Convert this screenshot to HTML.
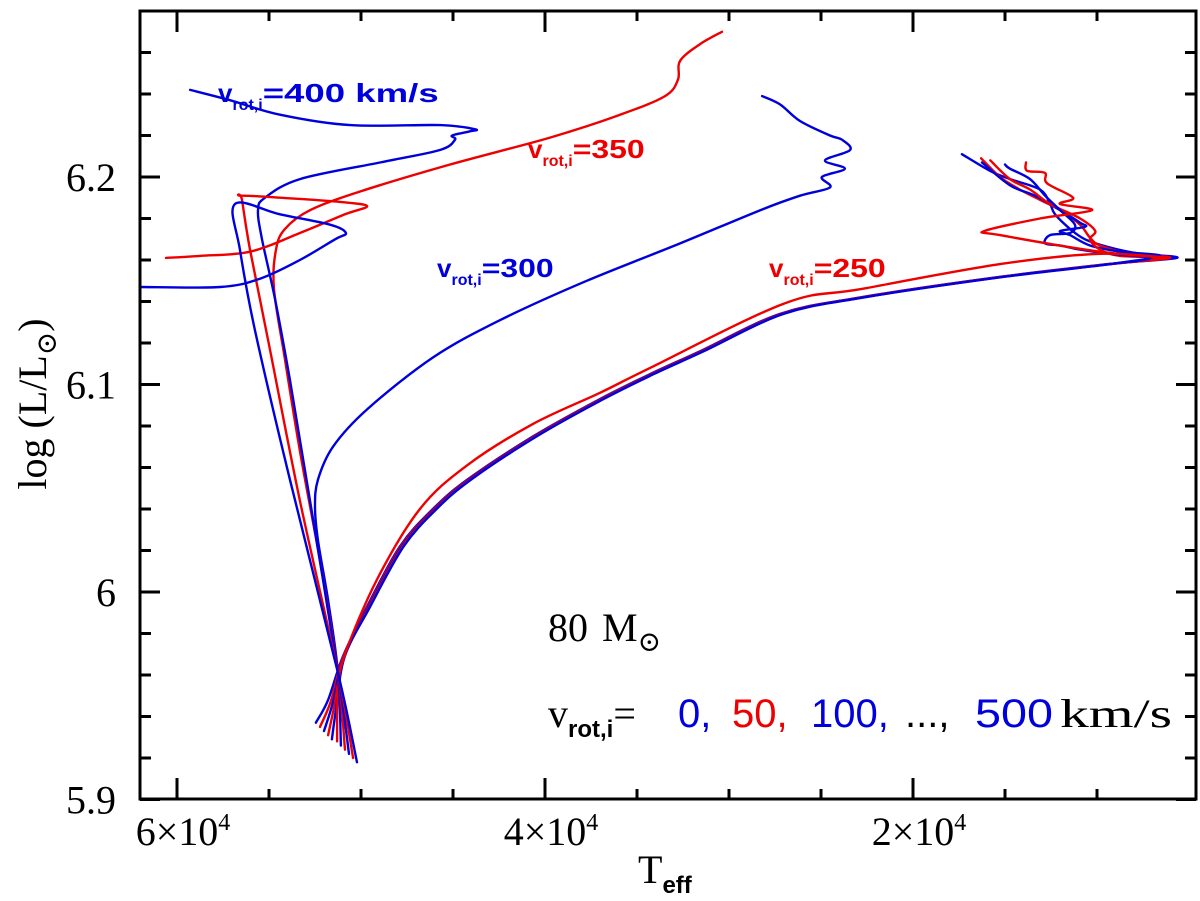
<!DOCTYPE html>
<html><head><meta charset="utf-8"><style>
html,body{margin:0;padding:0;background:#fff;}
svg{display:block;}
.ax{font-family:"Liberation Serif","DejaVu Serif",serif;fill:#000;}
.lab{font-family:"Liberation Sans","DejaVu Sans",sans-serif;font-weight:bold;}
</style></head><body>
<svg id="chart" width="1200" height="901" viewBox="0 0 1200 901" xmlns="http://www.w3.org/2000/svg">
<g id="tracks"></g>
<g id="axes"></g>
<text class="lab" x="218" y="102" fill="#0000dd" font-size="26">v<tspan font-size="16" dy="8">rot,i</tspan><tspan dy="-8" textLength="176" lengthAdjust="spacingAndGlyphs">=400 km/s</tspan></text>
<text class="lab" x="528" y="158" fill="#ee0000" font-size="26">v<tspan font-size="16" dy="8">rot,i</tspan><tspan dy="-8" textLength="72" lengthAdjust="spacingAndGlyphs">=350</tspan></text>
<text class="lab" x="437" y="277" fill="#0000dd" font-size="26">v<tspan font-size="16" dy="8">rot,i</tspan><tspan dy="-8" textLength="72" lengthAdjust="spacingAndGlyphs">=300</tspan></text>
<text class="lab" x="769" y="277" fill="#ee0000" font-size="26">v<tspan font-size="16" dy="8">rot,i</tspan><tspan dy="-8" textLength="72" lengthAdjust="spacingAndGlyphs">=250</tspan></text>
<text class="ax" x="548" y="641" font-size="40">80<tspan dx="14">M</tspan><tspan font-size="28" dy="10">⊙</tspan></text>
<g font-size="40">
<text class="ax" x="548" y="727">v<tspan font-size="24" dy="10" font-family="Liberation Sans" font-weight="bold">rot,i</tspan><tspan dy="-10">=</tspan></text>
<text x="678" y="727" font-family="Liberation Sans" fill="#0000dd">0,</text>
<text x="732" y="727" font-family="Liberation Sans" fill="#ee0000">50,</text>
<text x="811" y="727" font-family="Liberation Sans" fill="#0000dd">100,</text>
<text x="905" y="727" font-family="Liberation Sans" fill="#000">...,</text>
<text x="975" y="727" font-family="Liberation Sans" fill="#0000dd" textLength="78" lengthAdjust="spacingAndGlyphs">500</text>
<text class="ax" x="1060" y="727" textLength="112" lengthAdjust="spacingAndGlyphs">km/s</text>
</g>
<text class="ax" x="638" y="883" font-size="40">T<tspan font-family="Liberation Sans" font-weight="bold" font-size="24" dy="10">eff</tspan></text>
<text class="ax" transform="translate(46,404) rotate(-90)" text-anchor="middle" font-size="40">log<tspan dx="10">(L/L</tspan><tspan font-size="28" dy="10">⊙</tspan><tspan dy="-10">)</tspan></text>
</svg>
<script>
// axis: T in kK (reversed), logL
const xTickMajor = [60, 40, 20];
const xTickLabels = ["6×10", "4×10", "2×10"];
const xTickMinor = [55, 50, 45, 35, 30, 25, 15, 10];
const yTickMajor = [6.2, 6.1, 6.0, 5.9];
const yTickLabels = ["6.2", "6.1", "6", "5.9"];
const yTickMinor = [6.26, 6.24, 6.22, 6.18, 6.16, 6.14, 6.12, 6.08, 6.06, 6.04, 6.02, 5.98, 5.96, 5.94, 5.92];
const trackVelocities = [0, 50, 100, 150, 200, 250, 300, 350, 400, 450, 500];
const trackColors = ["#0000dd", "#ee0000"];
const T0 = [52.45,51.79,50.98,49.67,47.88,46.09,44.24,40.65,37.01,34.29,31.58,27.23,22.83,15.16,9.4,5.65,7.66,9.29,10.65,11.47,12.28,12.55,13.1,14.73,15.82,17.34];
const L0 = [5.937,5.948,5.969,5.993,6.022,6.040,6.054,6.075,6.093,6.105,6.116,6.134,6.142,6.152,6.158,6.161,6.163,6.166,6.170,6.175,6.182,6.187,6.194,6.199,6.203,6.211];
const T50 = [52.23,51.65,50.95,49.62,47.83,46.04,44.19,40.6,36.96,34.24,31.53,27.18,22.78,15.11,9.36,6.03,8.21,9.84,10.4,10.92,12.0,13.1,14.2,15.27,16.3];
const L50 = [5.935,5.947,5.969,5.993,6.022,6.040,6.054,6.075,6.093,6.105,6.116,6.134,6.142,6.152,6.158,6.161,6.163,6.167,6.171,6.177,6.184,6.189,6.194,6.200,6.209];
const T100 = [52.01,51.55,50.92,49.58,47.78,45.99,44.14,40.55,36.91,34.19,31.48,27.13,22.73,15.06,9.32,6.58,8.75,10.38,11.47,12.0,10.65,10.92,12.0,13.37,14.73,16.25];
const L100 = [5.933,5.946,5.969,5.993,6.022,6.040,6.054,6.075,6.093,6.105,6.116,6.134,6.142,6.152,6.158,6.162,6.164,6.167,6.172,6.174,6.176,6.178,6.184,6.191,6.196,6.207];
const T150 = [51.79,51.45,50.9,49.54,47.73,45.94,44.09,40.5,36.86,34.14,31.43,27.08,22.68,15.01,9.28,6.3,8.75,9.84,10.38,10.1,10.92,12.55,13.64,14.73,15.8];
const L150 = [5.931,5.945,5.969,5.993,6.022,6.040,6.054,6.075,6.093,6.105,6.116,6.134,6.142,6.152,6.158,6.161,6.162,6.165,6.170,6.174,6.180,6.187,6.194,6.199,6.208];
const T200 = [51.58,51.35,50.88,49.5,47.68,45.89,44.04,40.45,36.81,34.09,31.38,27.03,22.63,14.96,9.24,7.12,9.29,10.92,12.0,12.82,12.55,11.47,11.2,12.0,12.82,13.64,14.73,15.0];
const L200 = [5.929,5.944,5.969,5.993,6.022,6.040,6.054,6.075,6.093,6.105,6.116,6.134,6.142,6.152,6.158,6.161,6.163,6.165,6.167,6.168,6.172,6.173,6.177,6.184,6.191,6.199,6.204,6.206];
const T250 = [51.3,51.25,50.87,49.13,46.8,44.24,40.65,37.01,34.29,27.01,22.83,15.27,9.84,6.03,9.84,15.27,16.1,13.1,10.27,12.01,11.3,12.72,12.83,13.8,13.86];
const L250 = [5.928,5.953,5.970,6.006,6.040,6.061,6.081,6.096,6.108,6.139,6.146,6.158,6.163,6.161,6.164,6.172,6.174,6.180,6.184,6.187,6.190,6.197,6.202,6.203,6.207];
const T300 = [51.09,51.25,51.79,52.34,52.5,52.34,51.52,49.67,46.09,42.45,37.72,32.66,28.3,26.14,24.51,24.95,23.7,24.78,23.42,23.86,24.51,26.14,27.23,28.2];
const L300 = [5.926,5.961,5.996,6.025,6.041,6.054,6.070,6.088,6.113,6.131,6.150,6.168,6.184,6.191,6.195,6.200,6.204,6.208,6.213,6.218,6.220,6.227,6.235,6.239];
const T350 = [50.87,51.25,52.23,53.32,54.13,54.73,54.62,54.13,52.77,50.05,45.16,39.73,35.92,33.48,32.77,32.66,31.58,30.38];
const L350 = [5.924,5.961,6.015,6.068,6.112,6.146,6.165,6.175,6.184,6.193,6.206,6.219,6.230,6.239,6.247,6.256,6.264,6.270];
const T400 = [50.65,51.25,52.77,53.86,54.67,55.38,55.6,55.22,53.32,48.97,45.71,44.89,45.05,44.08,43.8,45.71,50.6,54.4,57.12,59.29];
const L400 = [5.922,5.961,6.044,6.102,6.141,6.170,6.184,6.190,6.199,6.207,6.213,6.218,6.220,6.222,6.223,6.225,6.225,6.230,6.237,6.242];
const T450 = [50.43,51.25,53.32,54.95,56.03,56.47,56.52,54.4,51.14,49.67,50.87,53.32,56.03,58.75,60.6];
const L450 = [5.920,5.961,6.044,6.117,6.165,6.189,6.191,6.190,6.188,6.186,6.182,6.173,6.164,6.162,6.161];
const T500 = [50.22,51.25,53.86,55.76,56.58,56.85,54.4,51.68,50.82,51.41,53.32,55.49,57.66,62.0];
const L500 = [5.918,5.961,6.054,6.126,6.165,6.187,6.182,6.177,6.173,6.170,6.160,6.151,6.147,6.147];
const trackT = [T0,T50,T100,T150,T200,T250,T300,T350,T400,T450,T500];
const trackL = [L0,L50,L100,L150,L200,L250,L300,L350,L400,L450,L500];

const X0 = 140, X1 = 1196, Y0 = 11, Y1 = 799;
function xs(t){ return 177 + (60 - t) * 18.4; }
function ys(l){ return 177 + (6.2 - l) * 2075; }
const NS = "http://www.w3.org/2000/svg";
function mk(tag, attrs, parent){ const e = document.createElementNS(NS, tag); for (const k in attrs) e.setAttribute(k, attrs[k]); parent.appendChild(e); return e; }
function smooth(p){
  let d = 'M' + p[0][0].toFixed(1) + ',' + p[0][1].toFixed(1);
  for (let i = 0; i < p.length - 1; i++) {
    const a = p[i-1] || p[i], b = p[i], c = p[i+1], e = p[i+2] || c;
    const c1 = [b[0] + (c[0]-a[0])/6, b[1] + (c[1]-a[1])/6];
    const c2 = [c[0] - (e[0]-b[0])/6, c[1] - (e[1]-b[1])/6];
    d += ' C' + c1[0].toFixed(1) + ',' + c1[1].toFixed(1) + ' ' + c2[0].toFixed(1) + ',' + c2[1].toFixed(1) + ' ' + c[0].toFixed(1) + ',' + c[1].toFixed(1);
  }
  return d;
}

const tg = document.getElementById('tracks');
mk('clipPath', {id:'clip'}, tg);
const cp = tg.querySelector('#clip');
mk('rect', {x:X0, y:Y0, width:X1-X0, height:Y1-Y0}, cp);
trackVelocities.forEach((v, i) => {
  const pts = trackT[i].map((t, j) => [xs(t), ys(trackL[i][j])]);
  const pl = mk('path', {d: smooth(pts), fill:'none', stroke: trackColors[i % 2], 'stroke-width': 2.4, 'stroke-linejoin':'round', 'stroke-linecap':'round', 'clip-path':'url(#clip)'}, tg);
  
  
});

const ag = document.getElementById('axes');
const fr = mk('rect', {x:X0, y:Y0, width:X1-X0, height:Y1-Y0, fill:'none', stroke:'#000', 'stroke-width':3}, ag);


xTickMajor.forEach((t, i) => {
  const x = xs(t);
  mk('line', {x1:x, x2:x, y1:Y1, y2:Y1-21, stroke:'#000', 'stroke-width':3}, ag);
  mk('line', {x1:x, x2:x, y1:Y0, y2:Y0+21, stroke:'#000', 'stroke-width':3}, ag);
  const tx = mk('text', {x:x+6, y:845, 'text-anchor':'middle', 'font-size':40, class:'ax'}, ag);
  tx.textContent = xTickLabels[i];
  const sp = mk('tspan', {'font-size':24, dy:-15}, tx);
  sp.textContent = '4';
  
  
});
xTickMinor.forEach(t => {
  const x = xs(t);
  mk('line', {x1:x, x2:x, y1:Y1, y2:Y1-10, stroke:'#000', 'stroke-width':3}, ag);
  mk('line', {x1:x, x2:x, y1:Y0, y2:Y0+10, stroke:'#000', 'stroke-width':3}, ag);
});
yTickMajor.forEach((l, i) => {
  const y = ys(l);
  mk('line', {x1:X0, x2:X0+20, y1:y, y2:y, stroke:'#000', 'stroke-width':3}, ag);
  mk('line', {x1:X1, x2:X1-20, y1:y, y2:y, stroke:'#000', 'stroke-width':3}, ag);
  const tx = mk('text', {x:116, y:y+14, 'text-anchor':'end', 'font-size':40, class:'ax'}, ag);
  tx.textContent = yTickLabels[i];
  
  
});
yTickMinor.forEach(l => {
  const y = ys(l);
  mk('line', {x1:X0, x2:X0+11, y1:y, y2:y, stroke:'#000', 'stroke-width':3}, ag);
  mk('line', {x1:X1, x2:X1-11, y1:y, y2:y, stroke:'#000', 'stroke-width':3}, ag);
});
</script>
</body></html>
